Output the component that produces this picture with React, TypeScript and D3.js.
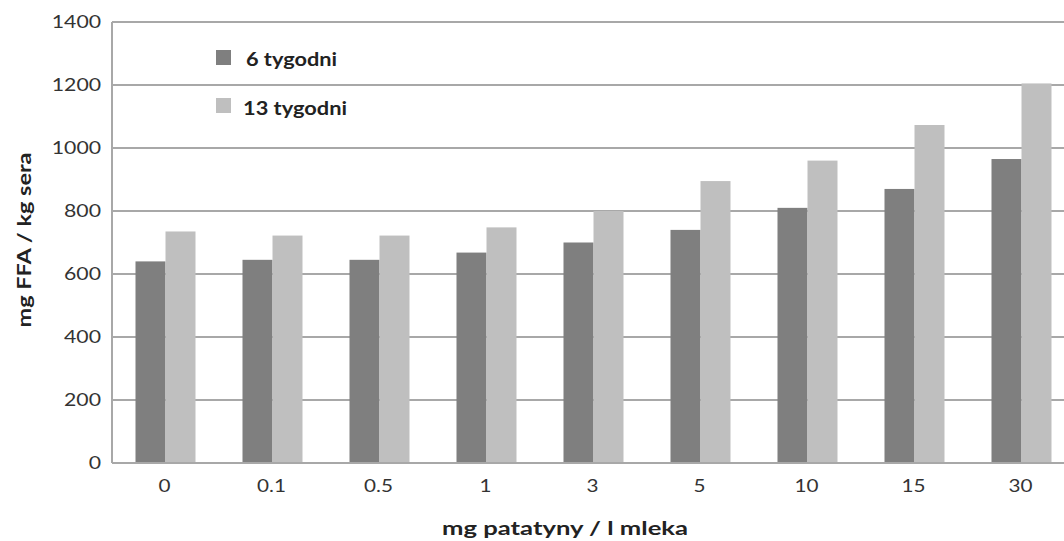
import React from "react";
import * as d3 from "d3";

const categories = ["0", "0.1", "0.5", "1", "3", "5", "10", "15", "30"];
const weeks6 = [640, 645, 645, 668, 700, 740, 810, 870, 965];
const weeks13 = [735, 722, 722, 748, 800, 895, 960, 1073, 1205];
const seriesNames = ["6 tygodni", "13 tygodni"];
const yTicks = [0, 200, 400, 600, 800, 1000, 1200, 1400];

const W = 1064;
const H = 541;
const left = 112;
const right = 1075;
const top = 22;
const bottom = 463;
const colors = ["#7f7f7f", "#bfbfbf"];
const font = "Lato, 'Open Sans', sans-serif";

export default function App() {
  const x = d3.scaleBand<string>().domain(categories).range([left, right]);
  const y = d3.scaleLinear().domain([0, 1400]).range([bottom, top]);
  const barW = 30;
  const series = [weeks6, weeks13];
  const legendLens = [91, 104];

  return (
    <svg width={W} height={H} style={{ position: "absolute", left: 0, top: 0, background: "#fff" }}>
      <rect x={0} y={0} width={W} height={H} fill="#fff" />
      {yTicks.map((t) => (
        <g key={t}>
          {t > 0 && (
            <line x1={left} x2={W} y1={y(t)} y2={y(t)} stroke="#a8a8a8" strokeWidth={2} />
          )}
          <g transform={`translate(101,${y(t)}) scale(1.18,1)`}>
            <text
              dy="0.36em"
              textAnchor="end"
              fontFamily={font}
              fontSize={18}
              fill="#333"
            >
              {t}
            </text>
          </g>
        </g>
      ))}
      {categories.map((c, i) => {
        const cx = (x(c) as number) + x.bandwidth() / 2;
        return (
          <g key={c}>
            {series.map((s, j) => (
              <rect
                key={j}
                x={cx - barW + j * barW}
                y={y(s[i])}
                width={barW}
                height={bottom - y(s[i])}
                fill={colors[j]}
              />
            ))}
            <g transform={`translate(${cx - 1},492) scale(1.15,1)`}>
              <text textAnchor="middle" fontFamily={font} fontSize={18} fill="#333">
                {c}
              </text>
            </g>
          </g>
        );
      })}
      <line x1={left} x2={left} y1={top} y2={bottom} stroke="#a8a8a8" strokeWidth={2} />
      <line x1={left} x2={W} y1={bottom} y2={bottom} stroke="#a8a8a8" strokeWidth={2} />
      {seriesNames.map((n, j) => (
        <g key={n}>
          <rect x={216} y={50 + j * 48} width={15} height={15} fill={colors[j]} />
          <text
            x={246 - j * 3}
            y={66 + j * 49}
            fontFamily={font}
            fontWeight="bold"
            fontSize={19}
            fill="#222"
            textLength={legendLens[j]}
            lengthAdjust="spacingAndGlyphs"
          >
            {n}
          </text>
        </g>
      ))}
      <text
        transform={`translate(31,240) rotate(-90)`}
        textAnchor="middle"
        fontFamily={font}
        fontWeight="bold"
        fontSize={18}
        fill="#222"
        textLength={175}
        lengthAdjust="spacingAndGlyphs"
      >
        mg FFA / kg sera
      </text>
      <text
        x={442}
        y={535}
        fontFamily={font}
        fontWeight="bold"
        fontSize={19}
        fill="#222"
        textLength={246}
        lengthAdjust="spacingAndGlyphs"
      >
        mg patatyny / l mleka
      </text>
    </svg>
  );
}
